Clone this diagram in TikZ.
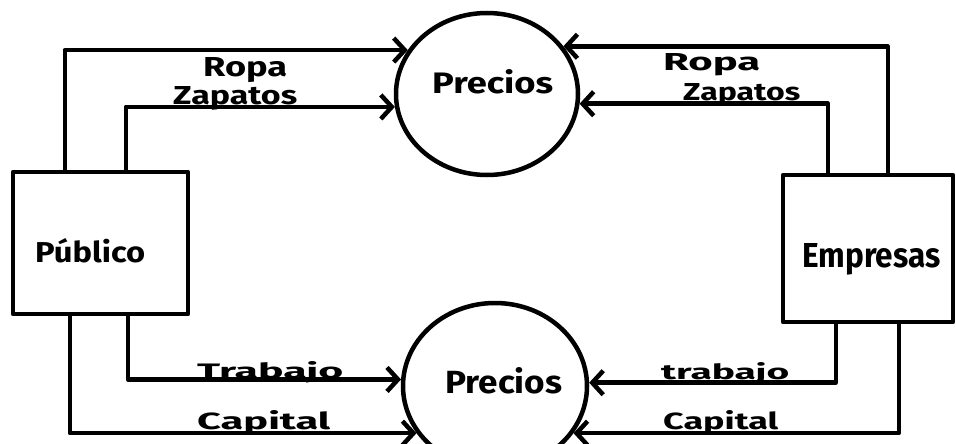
\documentclass[tikz,border=0pt]{standalone}
\usepackage{fontspec}
\setmainfont{Fira Sans}
\usepackage{graphicx}
\usetikzlibrary{arrows.meta,shapes.geometric}
\newcommand\hw[3]{\resizebox{#1pt}{#2pt}{\bfseries #3}}
\tikzset{
  ink/.style={line width=4.5pt, line join=round, line cap=round},
  flow/.style={ink, -{Straight Barb[length=11pt,width=24pt]}},
  boxnode/.style={draw, ink, rectangle, inner sep=0pt},
  pnode/.style={draw, ink, ellipse, inner sep=0pt},
  lbl/.style={anchor=base west, inner sep=0pt}
}
\begin{document}
\begin{tikzpicture}[x=1pt,y=-1pt]
\useasboundingbox (0,0) rectangle (956,444);
\clip (0,0) rectangle (956,444);
\fill[white] (0,0) rectangle (956,444);
% nodes
\node[boxnode, minimum width=175pt, minimum height=142pt] (pub) at (100.5,243) {};
\node[boxnode, minimum width=170pt, minimum height=147pt] (emp) at (868,248.5) {};
\node[pnode, minimum width=182pt, minimum height=162pt] (p1) at (487,94) {};
\node[pnode, minimum width=184pt, minimum height=166pt] (p2) at (495,386) {};
% connectors
\draw[flow] ([xshift=54pt]pub.north west) |- (p1.151.6);
\draw[flow] ([xshift=115pt]pub.north west) |- (p1.188.2);
\draw[flow] ([xshift=107pt]emp.north west) |- (p1.32.4);
\draw[flow] ([xshift=47pt]emp.north west) |- (p1.354.3);
\draw[flow] ([xshift=117pt]pub.south west) |- (p2.176.3);
\draw[flow] ([xshift=59pt]pub.south west) |- (p2.211);
\draw[flow] ([xshift=55pt]emp.south west) |- (p2.2.5);
\draw[flow] ([xshift=118pt]emp.south west) |- (p2.329);
% labels
\node[lbl] (t1) at (432,93) {\hw{121}{24}{Precios}};
\node[lbl] (t2) at (445,393) {\hw{117}{26}{Precios}};
\node[lbl] (t3) at (35,262) {\hw{110}{24}{Público}};
\node[lbl] (t4) at (802,267) {\hw{138}{24}{Empresas}};
\node[lbl] (t5) at (203,77) {\hw{84}{19}{Ropa}};
\node[lbl] (t6) at (173,105) {\hw{124}{18}{Zapatos}};
\node[lbl] (t7) at (663,71) {\hw{97}{17}{Ropa}};
\node[lbl] (t8) at (683,101) {\hw{117}{17}{Zapatos}};
\node[lbl] (t9) at (197,378) {\hw{146}{17}{Trabajo}};
\node[lbl] (t10) at (197,429) {\hw{133}{19}{Capital}};
\node[lbl] (t11) at (661,379) {\hw{128}{17}{trabajo}};
\node[lbl] (t12) at (663,429) {\hw{115}{19}{Capital}};
\end{tikzpicture}
\end{document}
